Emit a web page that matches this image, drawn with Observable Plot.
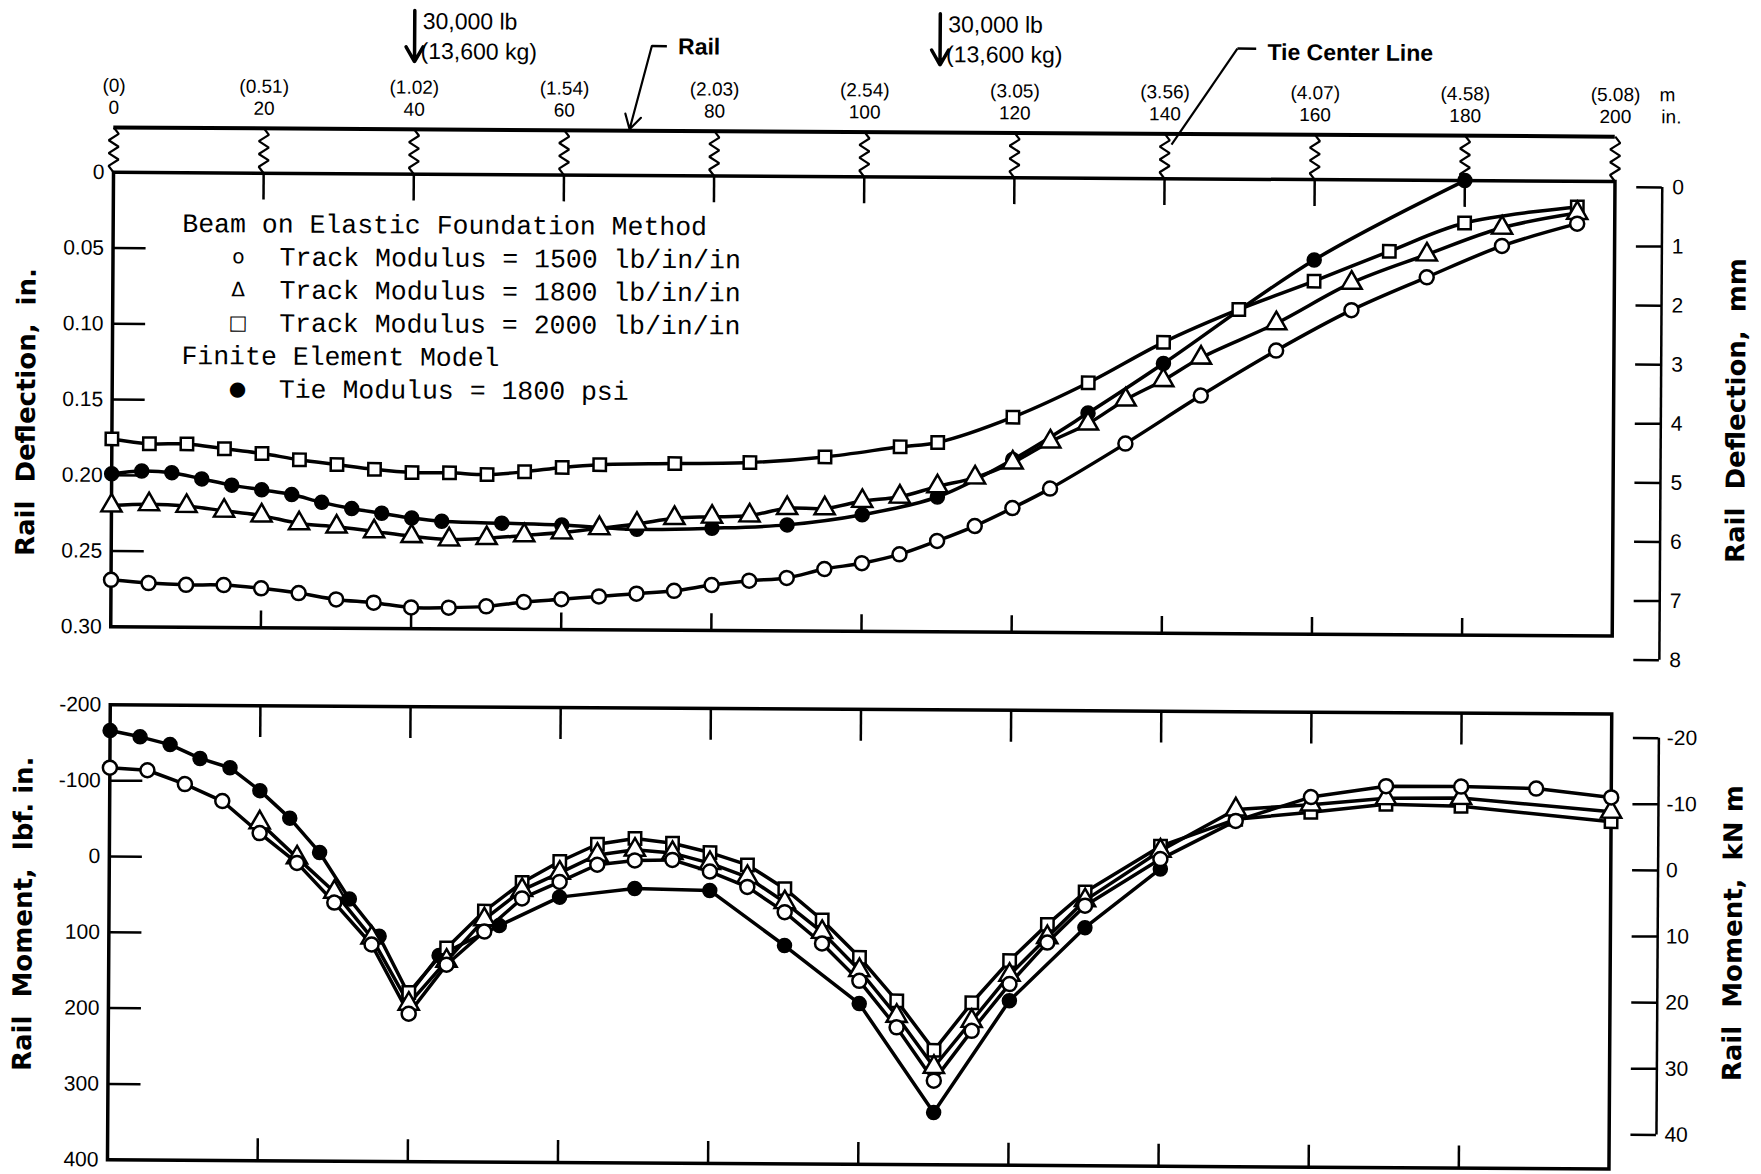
<!DOCTYPE html>
<html>
<head>
<meta charset="utf-8">
<script src="https://cdn.jsdelivr.net/npm/d3@7"></script>
<script src="https://cdn.jsdelivr.net/npm/@observablehq/plot@0.6"></script>
<style>
html, body { margin: 0; padding: 0; background: #fff; }
#chart { position: relative; width: 1761px; height: 1174px; overflow: hidden; background: #fff; }
#rot { position: absolute; left: 0; top: 0; width: 1761px; height: 1174px; transform: rotate(0.35deg); transform-origin: 880px 587px; }
#top, #bottom { position: absolute; left: 0; }
#top { top: 0; }
#bottom { top: 660px; }
svg { overflow: visible; }
</style>
</head>
<body>
<div id="chart"><div id="rot"><div id="top"></div><div id="bottom"></div></div></div>
<script>
// ---------------- data ----------------
const xTicks = [0, 20, 40, 60, 80, 100, 120, 140, 160, 180, 200];
const xTicksMetric = ["(0)", "(0.51)", "(1.02)", "(1.54)", "(2.03)", "(2.54)", "(3.05)", "(3.56)", "(4.07)", "(4.58)", "(5.08)"];
const innerXTicks = [20, 40, 60, 80, 100, 120, 140, 160, 180];
const loadX = [40, 110];
const loadLb = "30,000 lb";
const loadKg = "(13,600 kg)";

const deflTicks = [0, 0.05, 0.10, 0.15, 0.20, 0.25, 0.30];
const mmTicks = [0, 1, 2, 3, 4, 5, 6, 7, 8];
const momTicks = [-200, -100, 0, 100, 200, 300, 400];
const kNTicks = [-20, -10, 0, 10, 20, 30, 40];

// Rail deflection (in.) vs distance along rail (in.)
const defl1500X = [0,5,10,15,20,25,30,35,40,45,50,55,60,65,70,75,80,85,90,95,100,105,110,115,120,125,135,145,155,165,175,185,195];
const defl1500  = [0.269,0.271,0.272,0.272,0.274,0.277,0.281,0.283,0.286,0.286,0.285,0.282,0.280,0.278,0.276,0.274,0.270,0.267,0.265,0.259,0.255,0.249,0.240,0.230,0.218,0.205,0.175,0.143,0.113,0.086,0.064,0.043,0.028];
const defl1800X = [0,5,10,15,20,25,30,35,40,45,50,55,60,65,70,75,80,85,90,95,100,105,110,115,120,125,130,135,140,145,155,165,175,185,195];
const defl1800  = [0.220,0.219,0.220,0.223,0.226,0.231,0.233,0.236,0.239,0.241,0.240,0.238,0.236,0.233,0.230,0.226,0.225,0.224,0.219,0.219,0.214,0.211,0.204,0.198,0.188,0.174,0.162,0.146,0.133,0.118,0.095,0.068,0.049,0.031,0.021];
const defl2000X = [0,5,10,15,20,25,30,35,40,45,50,55,60,65,75,85,95,105,110,120,130,140,150,160,170,180,195];
const defl2000  = [0.176,0.179,0.179,0.182,0.185,0.189,0.192,0.195,0.197,0.197,0.198,0.196,0.193,0.191,0.190,0.189,0.185,0.178,0.175,0.158,0.135,0.108,0.086,0.067,0.047,0.028,0.017];
const deflFEX = [0,4,8,12,16,20,24,28,32,36,40,44,52,60,70,80,90,100,110,120,130,140,160,180];
const deflFE  = [0.199,0.197,0.198,0.202,0.206,0.209,0.212,0.217,0.221,0.224,0.227,0.229,0.230,0.231,0.2335,0.2325,0.230,0.223,0.211,0.186,0.155,0.122,0.053,0.000];

// Rail moment (lbf.in., thousands) vs distance along rail (in.)
const mom1500X = [0,5,10,15,20,25,30,35,40,45,50,55,60,65,70,75,80,85,90,95,100,105,110,115,120,125,130,140,150,160,170,180,190,200];
const mom1500  = [-117,-114,-96,-74,-32,7,59,114,205,140,96,52,30,7,1,0,15,35,68,109,158,219,289,223,161,106,57,-5,-56,-88,-103,-103,-101,-90];
const mom1800X = [20,25,30,35,40,45,50,55,60,65,70,75,80,85,90,95,100,105,110,115,120,125,130,140,150,160,170,180,200];
const mom1800  = [-46,0,45,105,192,135,80,41,18,-6,-13,-9,4,22,55,94,144,204,271,210,149,99,50,-16,-71,-78,-87,-88,-71];
const mom2000X = [40,45,50,55,60,65,70,75,80,85,90,95,100,105,110,115,120,125,130,140,150,160,170,180,200];
const mom2000  = [177,118,69,31,3,-20,-28,-22,-10,6,37,78,127,184,249,186,130,82,39,-22,-58,-68,-79,-77,-58];
const momFEX = [0,4,8,12,16,20,24,28,32,36,40,44,52,60,70,80,90,100,110,120,130,140];
const momFE  = [-166,-158,-148,-130,-118,-88,-52,-7,54,103,180,128,88,50,38,40,112,188,331,183,86,8];

// legend text
const legendHeads = ["Beam on Elastic Foundation Method", "Finite Element Model"];
const legendItems = [
  {sym: "o", label: "Track Modulus = 1500 lb/in/in"},
  {sym: "Δ", label: "Track Modulus = 1800 lb/in/in"},
  {sym: "□", label: "Track Modulus = 2000 lb/in/in"},
  {sym: "●", label: "Tie Modulus = 1800 psi"}
];

// right-hand axis conversions (as drawn in the figure)
const mmToIn = mm => 0.0038 + 0.039 * mm;
const kNmToLbf = k => 6 + 8.72 * k;

// ---------------- layout constants ----------------
const W = 1761;
const ML = 110.5, MR = 149;
const RIGHT_AXIS_X = 206.3, RIGHT_TICK_X = 202.9;
const HEAD = { metric: -0.0571, inch: -0.0426, rail: -0.0296, loadTop: -0.108, loadTip: -0.0743, lb: -0.1007, kg: -0.0809 };
const LEG = { y0: 0.0335, dy: 0.0218, xHead: 9.2, xSym: 16.7, xText: 22.2 };
const SANS = "Liberation Sans, Arial, sans-serif";
const MONO = "Liberation Mono, DejaVu Sans Mono, monospace";

const rows = (X, Y) => X.map((x, i) => ({x, y: Y[i]}));

function zigzag(context) {
  let pts;
  return {
    areaStart() {}, areaEnd() {},
    lineStart() { pts = []; },
    point(x, y) { pts.push([x, y]); },
    lineEnd() {
      const [x0, y0] = pts[0], [x1, y1] = pts[pts.length - 1];
      const n = 7, amp = 5;
      context.moveTo(x0, y0);
      for (let k = 1; k < n; ++k) {
        const t = k / n;
        context.lineTo(x0 + (x1 - x0) * t + (k % 2 ? amp : -amp), y0 + (y1 - y0) * t);
      }
      context.lineTo(x1, y1);
    }
  };
}

const OPEN = {fill: "white", stroke: "black", strokeWidth: 2.5};
const TITLE = {fontFamily: "DejaVu Sans, sans-serif", fontWeight: "bold", fontSize: 26, rotate: -90, textAnchor: "middle"};
const baseStyle = {background: "transparent", overflow: "visible", fontFamily: "'Liberation Sans Narrow', 'Arial Narrow', sans-serif", fontSize: "21px", color: "black"};

function seriesMarks(s1500, s1800, s2000, sFE, curve) {
  const LINE = {stroke: "black", strokeWidth: 3.5, curve};
  return [
    Plot.line(sFE, {x: "x", y: "y", ...LINE}),
    Plot.line(s2000, {x: "x", y: "y", ...LINE}),
    Plot.line(s1800, {x: "x", y: "y", ...LINE}),
    Plot.line(s1500, {x: "x", y: "y", ...LINE}),
    Plot.dot(sFE, {x: "x", y: "y", r: 7, fill: "black", stroke: "black"}),
    Plot.dot(s2000, {x: "x", y: "y", symbol: "square", r: 7, ...OPEN}),
    Plot.dot(s1800, {x: "x", y: "y", symbol: "triangle", r: 7.5, ...OPEN}),
    Plot.dot(s1500, {x: "x", y: "y", r: 7, ...OPEN})
  ];
}

// ---------------- top panel: deflection ----------------
const topPlot = Plot.plot({
  width: W, height: 680,
  marginLeft: ML, marginRight: MR, marginTop: 176.5, marginBottom: 49,
  style: baseStyle,
  x: {domain: [0, 200], axis: null},
  y: {domain: [0, 0.3], reverse: true, ticks: deflTicks, tickFormat: d => d === 0 ? "0" : d.toFixed(2), tickSize: 0, tickPadding: 9, label: null},
  marks: [
    Plot.frame({stroke: "black", strokeWidth: 3.5}),
    Plot.ruleX(innerXTicks, {x: d => d, y1: 0, y2: 0.0177, strokeWidth: 2.5}),
    Plot.ruleX(innerXTicks, {x: d => d, y1: 0.30, y2: 0.289, strokeWidth: 2.5}),
    Plot.ruleY(deflTicks.slice(1, -1), {y: d => d, x1: 0, x2: 4.4, strokeWidth: 2.5}),
    // rail and tie springs
    Plot.ruleY([HEAD.rail], {y: d => d, x1: 0, x2: 200, strokeWidth: 4}),
    Plot.link(xTicks, {x1: d => d, x2: d => d, y1: HEAD.rail, y2: 0, curve: zigzag, stroke: "black", strokeWidth: 2.2}),
    // distance labels (metres above, inches below)
    Plot.text(xTicks, {x: d => d, y: HEAD.metric, text: (d, i) => xTicksMetric[i], fontFamily: SANS, fontSize: 19}),
    Plot.text(xTicks, {x: d => d, y: HEAD.inch, text: d => String(d), fontFamily: SANS, fontSize: 19}),
    Plot.text(["m"], {x: 200, y: HEAD.metric, text: d => d, dx: 44, textAnchor: "start", fontFamily: SANS, fontSize: 19}),
    Plot.text(["in."], {x: 200, y: HEAD.inch, text: d => d, dx: 46, textAnchor: "start", fontFamily: SANS, fontSize: 19}),
    // wheel loads
    Plot.arrow(loadX, {x1: d => d, x2: d => d, y1: HEAD.loadTop, y2: HEAD.loadTip, stroke: "black", strokeWidth: 3.5, headLength: 14}),
    Plot.text(loadX, {x: d => d, y: HEAD.lb, text: () => loadLb, dx: 8, textAnchor: "start", fontFamily: SANS, fontSize: 23}),
    Plot.text(loadX, {x: d => d, y: HEAD.kg, text: () => loadKg, dx: 6, textAnchor: "start", fontFamily: SANS, fontSize: 23}),
    // annotations
    Plot.link([{x1: 71.6, y1: -0.0855, x2: 73.6, y2: -0.0855}], {x1: "x1", y1: "y1", x2: "x2", y2: "y2", stroke: "black", strokeWidth: 2.5}),
    Plot.arrow([{x1: 71.6, y1: -0.0855, x2: 68.7, y2: -0.0305}], {x1: "x1", y1: "y1", x2: "x2", y2: "y2", stroke: "black", strokeWidth: 2.2, headLength: 11}),
    Plot.text(["Rail"], {x: 75.1, y: -0.085, text: d => d, textAnchor: "start", fontFamily: SANS, fontWeight: "bold", fontSize: 23}),
    Plot.link([{x1: 149.6, y1: -0.0862, x2: 152.1, y2: -0.0862}], {x1: "x1", y1: "y1", x2: "x2", y2: "y2", stroke: "black", strokeWidth: 2.5}),
    Plot.link([{x1: 149.6, y1: -0.0862, x2: 140.9, y2: -0.0226}], {x1: "x1", y1: "y1", x2: "x2", y2: "y2", stroke: "black", strokeWidth: 2.2}),
    Plot.text(["Tie Center Line"], {x: 153.6, y: -0.0837, text: d => d, textAnchor: "start", fontFamily: SANS, fontWeight: "bold", fontSize: 23}),
    // legend
    Plot.text(legendHeads, {x: LEG.xHead, y: (d, i) => LEG.y0 + i * 4 * LEG.dy, text: d => d, textAnchor: "start", fontFamily: MONO, fontSize: 26.5}),
    Plot.text(legendItems, {x: LEG.xSym, y: (d, i) => LEG.y0 + (i < 3 ? i + 1 : i + 2) * LEG.dy, text: d => d.sym, fontFamily: "DejaVu Sans, sans-serif", fontSize: 20}),
    Plot.text(legendItems, {x: LEG.xText, y: (d, i) => LEG.y0 + (i < 3 ? i + 1 : i + 2) * LEG.dy, text: d => d.label, textAnchor: "start", fontFamily: MONO, fontSize: 26.5}),
    // data
    ...seriesMarks(rows(defl1500X, defl1500), rows(defl1800X, defl1800), rows(defl2000X, defl2000), rows(deflFEX, deflFE), "catmull-rom"),
    // right mm axis
    Plot.ruleX([RIGHT_AXIS_X], {x: d => d, y1: mmToIn(0), y2: mmToIn(8), strokeWidth: 2.5}),
    Plot.ruleY(mmTicks, {y: mmToIn, x1: RIGHT_TICK_X, x2: RIGHT_AXIS_X, strokeWidth: 2.5}),
    Plot.text(mmTicks, {y: mmToIn, x: RIGHT_AXIS_X, dx: 10, text: d => String(d), textAnchor: "start"}),
    // axis titles
    Plot.text(["Rail  Deflection,  in."], {frameAnchor: "left", dx: -85.5, dy: 13, text: d => d, ...TITLE}),
    Plot.text(["Rail  Deflection,  mm"], {frameAnchor: "right", dx: 123, dy: 1, text: d => d, ...TITLE})
  ]
});
document.getElementById("top").appendChild(topPlot);

// ---------------- bottom panel: moment ----------------
const botPlot = Plot.plot({
  width: W, height: 514,
  marginLeft: ML, marginRight: MR, marginTop: 49, marginBottom: 10,
  style: baseStyle,
  x: {domain: [0, 200], axis: null},
  y: {domain: [-200, 400], reverse: true, ticks: momTicks, tickFormat: d => `${d}`, tickSize: 0, tickPadding: 9, label: null},
  marks: [
    Plot.frame({stroke: "black", strokeWidth: 3.5}),
    Plot.ruleX(innerXTicks, {x: d => d, y1: -200, y2: -158, strokeWidth: 2.5}),
    Plot.ruleX(innerXTicks, {x: d => d, y1: 400, y2: 371, strokeWidth: 2.5}),
    Plot.ruleY(momTicks.slice(1, -1), {y: d => d, x1: 0, x2: 4.4, strokeWidth: 2.5}),
    ...seriesMarks(rows(mom1500X, mom1500), rows(mom1800X, mom1800), rows(mom2000X, mom2000), rows(momFEX, momFE), "linear"),
    Plot.ruleX([RIGHT_AXIS_X], {x: d => d, y1: kNmToLbf(-20), y2: kNmToLbf(40), strokeWidth: 2.5}),
    Plot.ruleY(kNTicks, {y: kNmToLbf, x1: RIGHT_TICK_X, x2: RIGHT_AXIS_X, strokeWidth: 2.5}),
    Plot.text(kNTicks, {y: kNmToLbf, x: RIGHT_AXIS_X, dx: 8, text: d => `${d}`, textAnchor: "start"}),
    Plot.text(["Rail  Moment,  lbf. in."], {frameAnchor: "left", dx: -85.5, dy: -18, text: d => d, ...TITLE}),
    Plot.text(["Rail  Moment,  kN m"], {frameAnchor: "right", dx: 123, dy: -9, text: d => d, ...TITLE})
  ]
});
document.getElementById("bottom").appendChild(botPlot);
</script>
</body>
</html>
